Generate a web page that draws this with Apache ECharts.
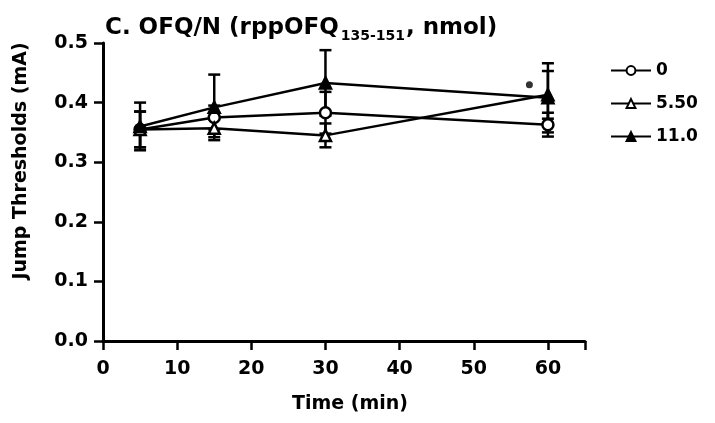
<!DOCTYPE html>
<html>
<head>
<meta charset="utf-8">
<script src="https://cdn.jsdelivr.net/npm/echarts@6/dist/echarts.min.js"></script>
<style>
  html, body { margin: 0; padding: 0; background: #fff; }
  #chart { width: 715px; height: 423px; }
</style>
</head>
<body>
<div id="chart"></div>
<script>
// time points (min)
const times = [5, 15, 30, 60]
const doseNames = ['0', '5.50', '11.0']

// mean jump thresholds (mA) per dose
const dose0 = [0.355, 0.375, 0.383, 0.363]
const dose550 = [0.355, 0.357, 0.345, 0.413]
const dose11 = [0.36, 0.392, 0.433, 0.408]

// SEM per dose
const sem0 = [0.03, 0.02, 0.035, 0.02]
const sem550 = [0.03, 0.015, 0.02, 0.04]
const sem11 = [0.04, 0.055, 0.055, 0.058]

// significance mark
const sigMark = [[57.5, 0.43]]

const yTicks = [0, 0.1, 0.2, 0.3, 0.4, 0.5]

const chart = echarts.init(document.getElementById('chart'))

const pairs = (vals) => times.map((t, i) => [t, vals[i]])
const bars = (vals, sem) => times.map((t, i) => [t, vals[i] - sem[i], vals[i] + sem[i]])

const errorSeries = (data) => ({
  type: 'custom',
  data: data,
  z: 1,
  silent: true,
  renderItem: function (params, api) {
    const x = api.value(0)
    const lo = api.coord([x, api.value(1)])
    const hi = api.coord([x, api.value(2)])
    const w = 6
    const style = { stroke: '#000', lineWidth: 2.5 }
    return {
      type: 'group',
      children: [
        { type: 'line', shape: { x1: lo[0], y1: lo[1], x2: hi[0], y2: hi[1] }, style: style },
        { type: 'line', shape: { x1: lo[0] - w, y1: lo[1], x2: lo[0] + w, y2: lo[1] }, style: style },
        { type: 'line', shape: { x1: hi[0] - w, y1: hi[1], x2: hi[0] + w, y2: hi[1] }, style: style }
      ]
    }
  }
})

const lineSeries = (name, vals, symbol, fill) => ({
  name: name,
  type: 'line',
  data: pairs(vals),
  symbol: symbol,
  symbolSize: 11,
  z: 3,
  lineStyle: { color: '#000', width: 2.5 },
  itemStyle: { color: fill, borderColor: '#000', borderWidth: 2.5 }
})

const boldFont = { fontFamily: 'DejaVu Sans', fontWeight: 'bold', color: '#000' }

const option = {
  animation: false,
  backgroundColor: '#fff',
  title: {
    text: '{a|C. OFQ/N (rppOFQ}{s|135-151}{a|, nmol)}',
    left: 100,
    top: 9,
    textStyle: {
      rich: {
        a: { ...boldFont, fontSize: 23 },
        s: { ...boldFont, fontSize: 14, padding: [15, 1, 0, 2] }
      }
    }
  },
  legend: {
    orient: 'vertical',
    left: 605,
    top: 57,
    itemGap: 16,
    itemWidth: 40,
    itemHeight: 11,
    data: doseNames,
    textStyle: { ...boldFont, fontSize: 17 }
  },
  grid: {
    left: 103,
    right: 130,
    top: 43,
    bottom: 82
  },
  xAxis: {
    type: 'value',
    min: 0,
    max: 65,
    interval: 10,
    name: 'Time (min)',
    nameLocation: 'middle',
    nameGap: 54,
    nameTextStyle: { ...boldFont, fontSize: 19, padding: [0, 0, 0, 12] },
    axisLine: { onZero: false, lineStyle: { color: '#000', width: 3 } },
    axisTick: { show: true, length: 9, lineStyle: { color: '#000', width: 2.5 } },
    axisLabel: {
      ...boldFont,
      fontSize: 19,
      margin: 19,
      formatter: (v) => (v > 60 ? '' : v)
    },
    splitLine: { show: false }
  },
  yAxis: {
    type: 'value',
    min: 0,
    max: 0.5,
    interval: 0.1,
    name: 'Jump Thresholds (mA)',
    nameLocation: 'middle',
    nameGap: 72,
    nameTextStyle: { ...boldFont, fontSize: 19, padding: [0, 0, 0, 62] },
    axisLine: { show: true, lineStyle: { color: '#000', width: 3 } },
    axisTick: { show: true, length: 9, lineStyle: { color: '#000', width: 2.5 } },
    axisLabel: {
      ...boldFont,
      fontSize: 19,
      margin: 15,
      formatter: (v) => {
        const t = yTicks.find(k => Math.abs(k - v) < 1e-6)
        return t === undefined ? '' : t.toFixed(1)
      }
    },
    splitLine: { show: false }
  },
  series: [
    errorSeries(bars(dose0, sem0)),
    errorSeries(bars(dose550, sem550)),
    errorSeries(bars(dose11, sem11)),
    lineSeries(doseNames[0], dose0, 'circle', '#fff'),
    lineSeries(doseNames[1], dose550, 'triangle', '#fff'),
    lineSeries(doseNames[2], dose11, 'triangle', '#000'),
    {
      type: 'scatter',
      data: sigMark,
      symbol: 'circle',
      symbolSize: 7,
      itemStyle: { color: '#000' },
      silent: true
    }
  ]
}

chart.setOption(option)
</script>
</body>
</html>
